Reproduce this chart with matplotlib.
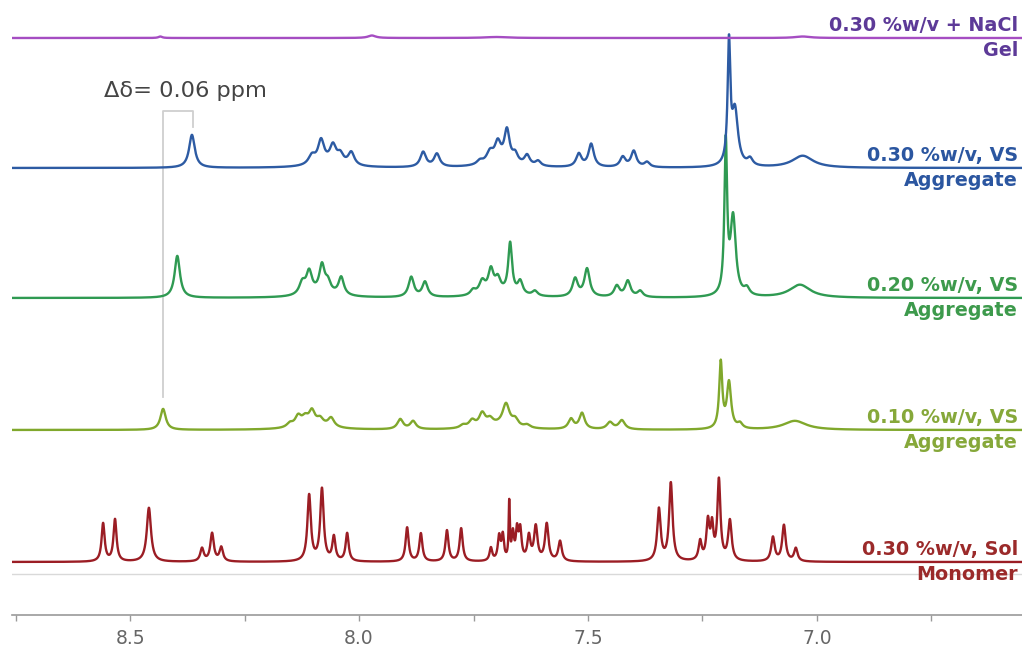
import numpy as np
import matplotlib
matplotlib.use("Agg")
import matplotlib.pyplot as plt

# ---------------- data (ppm, intensity, FWHM) ----------------
red_pos = [8.559, 8.533, 8.459, 8.343, 8.321, 8.301, 8.109, 8.081, 8.055, 8.026,
           7.895, 7.865, 7.808, 7.777, 7.712, 7.694, 7.686, 7.672, 7.664, 7.655,
           7.648, 7.629, 7.614, 7.590, 7.561, 7.345, 7.319, 7.255, 7.238, 7.229,
           7.214, 7.190, 7.096, 7.072, 7.046]
red_h = [38, 42, 54, 13, 28, 14, 66, 72, 24, 28,
         34, 28, 31, 33, 13, 24, 24, 56, 26, 28,
         30, 24, 34, 37, 20, 52, 78, 19, 38, 32,
         80, 40, 24, 36, 13]
red_w = [0.008, 0.008, 0.011, 0.009, 0.009, 0.009, 0.009, 0.009, 0.008, 0.008,
         0.008, 0.008, 0.008, 0.008, 0.007, 0.007, 0.006, 0.003, 0.006, 0.006,
         0.007, 0.008, 0.009, 0.009, 0.009, 0.009, 0.009, 0.008, 0.008, 0.007,
         0.008, 0.009, 0.009, 0.009, 0.009]

blue_pos = [8.365, 8.103, 8.083, 8.057, 8.041, 8.017, 8.065, 7.860, 7.830, 7.736,
            7.714, 7.697, 7.677, 7.659, 7.633, 7.609, 7.690, 7.520, 7.493, 7.424,
            7.400, 7.371, 7.192, 7.179, 7.146, 7.031]
blue_h = [33, 9, 23, 17, 9, 13, 4, 15, 13, 4,
          11, 19, 32, 9, 10, 5, 4, 13, 23, 10,
          16, 5, 118, 55, 7, 12]
blue_w = [0.015, 0.018, 0.016, 0.016, 0.016, 0.016, 0.08, 0.015, 0.015, 0.016,
          0.018, 0.016, 0.014, 0.014, 0.014, 0.014, 0.09, 0.014, 0.014, 0.014,
          0.014, 0.014, 0.007, 0.016, 0.014, 0.055]

green_pos = [8.397, 8.124, 8.109, 8.081, 8.068, 8.039, 8.080, 7.886, 7.856, 7.751,
             7.731, 7.712, 7.697, 7.670, 7.648, 7.616, 7.690, 7.528, 7.502, 7.437,
             7.413, 7.386, 7.199, 7.183, 7.153, 7.037]
green_h = [42, 12, 22, 27, 10, 18, 4, 20, 15, 5,
           13, 23, 13, 50, 13, 5, 4, 18, 28, 11,
           16, 6, 150, 78, 7, 13]
green_w = [0.014, 0.016, 0.015, 0.014, 0.014, 0.014, 0.08, 0.014, 0.014, 0.014,
           0.016, 0.014, 0.014, 0.010, 0.013, 0.014, 0.09, 0.014, 0.014, 0.014,
           0.014, 0.014, 0.007, 0.014, 0.014, 0.055]

olive_pos = [8.428, 8.151, 8.133, 8.118, 8.103, 8.085, 8.061, 8.100, 7.910, 7.882,
             7.773, 7.753, 7.731, 7.714, 7.679, 7.659, 7.633, 7.700, 7.537, 7.513,
             7.452, 7.426, 7.210, 7.192, 7.168, 7.048]
olive_h = [21, 4, 10, 7, 13, 6, 9, 5, 10, 8,
           3, 7, 13, 6, 22, 7, 3, 4, 10, 16,
           7, 9, 66, 46, 5, 9]
olive_w = [0.014, 0.016, 0.016, 0.016, 0.015, 0.016, 0.016, 0.08, 0.015, 0.015,
           0.016, 0.016, 0.016, 0.016, 0.018, 0.016, 0.016, 0.09, 0.014, 0.014,
           0.016, 0.016, 0.008, 0.011, 0.013, 0.060]

purple_pos = [8.434, 7.972, 7.700, 7.031]
purple_h = [1.5, 2.5, 1.0, 1.5]
purple_w = [0.010, 0.020, 0.060, 0.040]

offsets = [53, 185, 317, 447, 577]   # red, olive, green, blue, purple
colors = ["#9b1d24", "#80a82c", "#2f9a52", "#2d5ba3", "#a54dc2"]
text_colors = ["#9b2a2a", "#86a83a", "#3d9a4c", "#2b56a0", "#5d3a98"]
labels_top = ["0.30 %w/v, Sol", "0.10 %w/v, VS", "0.20 %w/v, VS",
              "0.30 %w/v, VS", "0.30 %w/v + NaCl"]
labels_bottom = ["Monomer", "Aggregate", "Aggregate", "Aggregate", "Gel"]

major_ticks = [8.5, 8.0, 7.5, 7.0]
minor_ticks = [8.75, 8.25, 7.75, 7.25, 6.75]
delta_left, delta_right = 8.428, 8.362
delta_text = "Δδ= 0.06 ppm"

# ---------------- drawing ----------------
def spectrum(x, pos, h, w):
    y = np.zeros_like(x)
    for p, a, fw in zip(pos, h, w):
        g = fw / 2.0
        y += a * g * g / ((x - p) ** 2 + g * g)
    return y

fig = plt.figure(figsize=(10.22, 6.46), dpi=100)
ax = fig.add_axes([12 / 1022, 31 / 646, 1010 / 1022, 615 / 646])
ax.set_xlim(8.758, 6.552)
ax.set_ylim(0, 615)

x = np.linspace(8.80, 6.50, 8000)
series = [(red_pos, red_h, red_w), (olive_pos, olive_h, olive_w),
          (green_pos, green_h, green_w), (blue_pos, blue_h, blue_w),
          (purple_pos, purple_h, purple_w)]
zorders = [3, 2, 3, 4, 5]
for (pos, h, w), off, c, z in zip(series, offsets, colors, zorders):
    ax.plot(x, off + spectrum(x, pos, h, w), color=c, lw=1.7, zorder=z,
            solid_joinstyle="round")

# light gray reference line under monomer
ax.axhline(offsets[0] - 12, color="#d9d9d9", lw=1.0, zorder=1)

# delta bracket
ax.plot([delta_left, delta_left, delta_right, delta_right],
        [218, 504, 504, 488], color="#cfcfcf", lw=1.3, zorder=1)
ax.text(8.556, 518, delta_text, fontsize=16.2, color="#444444",
        ha="left", va="baseline", family="DejaVu Sans")

# right labels
for off, tc, lt, lb in zip(offsets, text_colors, labels_top, labels_bottom):
    ax.text(6.561, off + 7, lt, fontsize=13.8, fontweight="bold", color=tc,
            ha="right", va="baseline", family="DejaVu Sans")
    ax.text(6.561, off - 18, lb, fontsize=13.8, fontweight="bold", color=tc,
            ha="right", va="baseline", family="DejaVu Sans")

for s in ["left", "right", "top"]:
    ax.spines[s].set_visible(False)
ax.spines["bottom"].set_color("#9a9a9a")
ax.spines["bottom"].set_linewidth(1.2)
ax.set_yticks([])
ax.set_xticks(major_ticks)
ax.set_xticklabels([f"{t:.1f}" for t in major_ticks])
ax.set_xticks(minor_ticks, minor=True)
ax.tick_params(axis="x", which="both", direction="out", length=4, width=1,
               color="#9a9a9a", labelcolor="#666666", labelsize=13.5, pad=6)

fig.savefig("out.png", dpi=100)
